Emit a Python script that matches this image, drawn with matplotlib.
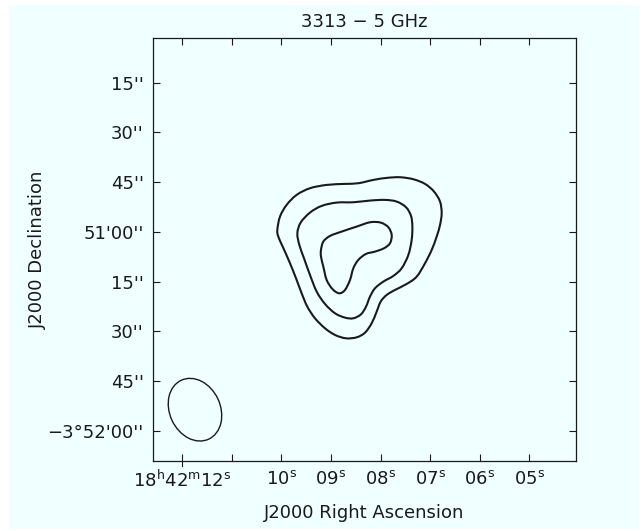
import numpy as np
import matplotlib
matplotlib.use("Agg")
import matplotlib.pyplot as plt
from matplotlib.patches import Ellipse, Rectangle, PathPatch
from matplotlib.path import Path
from matplotlib.transforms import Affine2D

# ---------------- data ----------------
# x: RA seconds of 18h42m ; y: arcsec above Dec -3d52'00"
outer_ra = [10.083, 10.029, 9.895, 9.693, 9.424, 9.088, 8.718, 8.449, 8.146, 7.877,
            7.608, 7.339, 7.104, 6.922, 6.801, 6.768, 6.801, 6.869, 6.969, 7.104,
            7.272, 7.474, 7.709, 7.877, 7.998, 8.079, 8.180, 8.314, 8.482, 8.698,
            8.919, 9.121, 9.323, 9.478, 9.592, 9.706, 9.841, 9.975, 10.063]
outer_dec = [60.58, 64.61, 68.13, 71.15, 73.16, 74.16, 74.47, 74.67, 75.67, 76.28,
             76.48, 75.87, 74.47, 72.15, 69.13, 65.61, 62.09, 58.57, 54.54, 50.52,
             46.49, 44.28, 42.47, 40.96, 38.95, 35.93, 32.41, 29.59, 28.18, 27.88,
             28.89, 30.90, 33.92, 37.44, 41.46, 45.99, 51.02, 55.55, 58.57]

middle_ra = [9.679, 9.612, 9.424, 9.188, 8.886, 8.550, 8.213, 7.911, 7.675, 7.487,
             7.386, 7.359, 7.373, 7.440, 7.575, 7.743, 7.944, 8.113, 8.213, 8.294,
             8.395, 8.550, 8.718, 8.919, 9.121, 9.289, 9.424, 9.545, 9.639]
middle_dec = [59.57, 62.80, 65.81, 67.83, 68.83, 68.93, 69.44, 69.64, 69.13, 67.42,
              64.81, 61.59, 57.56, 53.03, 49.01, 46.70, 44.99, 42.97, 40.46, 37.44,
              35.12, 33.92, 34.12, 35.43, 38.24, 41.97, 46.99, 52.03, 56.05]

inner_ra = [9.202, 9.155, 9.020, 8.785, 8.482, 8.213, 7.998, 7.844, 7.776, 7.810,
            7.931, 8.113, 8.294, 8.449, 8.550, 8.617, 8.718, 8.832, 8.966, 9.088,
            9.155, 9.202]
inner_dec = [54.54, 57.06, 58.77, 60.08, 61.59, 62.89, 62.79, 61.39, 59.07, 56.56,
             55.05, 54.04, 53.34, 51.53, 49.01, 45.49, 42.47, 41.46, 42.67, 45.49,
             49.51, 52.53]

# beam: centre (RA s, arcsec), major/minor (arcsec), PA (deg E of N)
beam_ra, beam_dec = 11.744, 6.34
beam_bmaj, beam_bmin, beam_pa = 19.6, 15.3, 25.0
dec0_deg = -3.85

xtick_vals = [12, 11, 10, 9, 8, 7, 6, 5]
xtick_labels = [r"$\mathrm{18^h42^m12^s}$", "", r"$\mathrm{10^s}$", r"$\mathrm{09^s}$",
                r"$\mathrm{08^s}$", r"$\mathrm{07^s}$", r"$\mathrm{06^s}$", r"$\mathrm{05^s}$"]
ytick_vals = [0, 15, 30, 45, 60, 75, 90, 105]
ytick_labels = ["\u22123\u00b052'00''", "45''", "30''", "15''", "51'00''", "45''", "30''", "15''"]

title = "3313 \u2212 5 GHz"
xlabel = "J2000 Right Ascension"
ylabel = "J2000 Declination"


def smooth_closed_path(xs, ys):
    """Closed Bezier path passing through the traced vertices (Catmull-Rom handles)."""
    P = np.column_stack([xs, ys]).astype(float)
    n = len(P)
    verts = [P[0]]
    codes = [Path.MOVETO]
    for i in range(n):
        p0, p1, p2, p3 = P[i - 1], P[i], P[(i + 1) % n], P[(i + 2) % n]
        c1 = p1 + (p2 - p0) / 6.0
        c2 = p2 - (p3 - p1) / 6.0
        verts += [c1, c2, p2]
        codes += [Path.CURVE4] * 3
    return Path(np.array(verts), codes)


# ---------------- figure ----------------
plt.rcParams['font.family'] = ['DejaVu Sans']
bg = '#f0ffff'
ink = '#1a1a1a'
fs = 13
fig = plt.figure(figsize=(6.43, 5.31), dpi=100, facecolor='white')
fig.patches.append(Rectangle((9/643, 2/531), 630/643, 524/531, transform=fig.transFigure,
                             facecolor=bg, edgecolor='none', zorder=-10))
ax = fig.add_axes([152.7/643, 1-460.7/531, 423.3/643, 422.4/531])
ax.set_facecolor(bg)

for ra, de in [(outer_ra, outer_dec), (middle_ra, middle_dec), (inner_ra, inner_dec)]:
    ax.add_patch(PathPatch(smooth_closed_path(ra, de), fill=False, edgecolor=ink,
                           lw=1.5, joinstyle='round'))

k = 15*np.cos(np.deg2rad(dec0_deg))
tr = Affine2D().scale(1/k, 1) + ax.transData
ax.add_patch(Ellipse((beam_ra*k, beam_dec), width=beam_bmin, height=beam_bmaj,
                     angle=-beam_pa, transform=tr, fill=False, edgecolor=ink, lw=1.0))

ax.set_xlim(12.597, 4.058)
ax.set_ylim(-9.05, 118.4)

ax.set_xticks(xtick_vals)
ax.set_xticklabels(xtick_labels)
ax.set_yticks(ytick_vals)
ax.set_yticklabels(ytick_labels)
ax.tick_params(direction='in', length=5, width=0.8, color=ink, labelcolor=ink,
               labelsize=fs, top=True, right=True)
ax.tick_params(axis='y', pad=6.5)
ax.tick_params(axis='x', pad=6.5)
ax.axvline(12, ymin=-0.012, ymax=0, clip_on=False, color=ink, lw=0.8)
for s in ax.spines.values():
    s.set_color(ink)
    s.set_linewidth(0.9)

ax.set_title(title, fontsize=fs, color=ink, pad=8)
ax.set_xlabel(xlabel, fontsize=fs, color=ink, va='center')
ax.xaxis.set_label_coords(0.5, -(513-460.7)/422.4)
ax.set_ylabel(ylabel, fontsize=fs, color=ink, va='center')
ax.yaxis.set_label_coords(-(152.7-38)/423.3, 0.5)

fig.savefig('out.png', dpi=100, facecolor='white')
